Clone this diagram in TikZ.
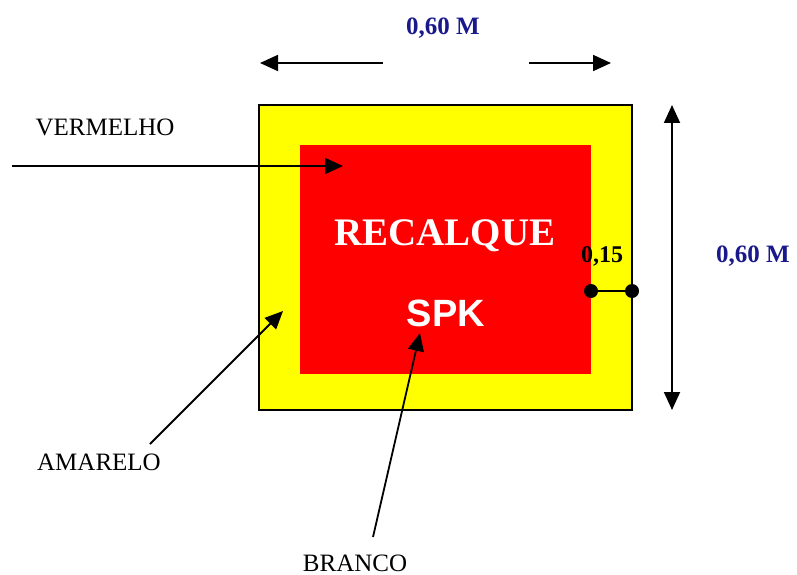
\documentclass[tikz,border=0pt]{standalone}
\usepackage{fontspec}
\setmainfont{Liberation Serif}
\newfontfamily\arialfont{Liberation Sans}
\usetikzlibrary{arrows.meta}
\definecolor{navyblue}{RGB}{25,25,140}
\definecolor{ylw}{RGB}{255,255,0}
\definecolor{rd}{RGB}{255,0,0}
\tikzset{
  lbl/.style={inner sep=0pt, font=\fontsize{25}{25}\selectfont},
  dimlbl/.style={inner sep=0pt, text=navyblue, font=\fontsize{25}{25}\selectfont\bfseries},
  tip/.style={-{Triangle[length=18pt,width=16pt]}},
  arr/.style={line width=1.8pt, tip},
  dot/.style={circle, fill=black, inner sep=0pt, minimum size=14pt},
}
\begin{document}
\begin{tikzpicture}[x=1pt,y=-1pt]
\useasboundingbox (0,0) rectangle (797,575);
% plates
\node[draw=black, line width=1.5pt, fill=ylw, minimum width=373pt, minimum height=305pt, inner sep=0pt] (outer) at (445.5,257.5) {};
\node[fill=rd, minimum width=291pt, minimum height=229pt, inner sep=0pt] (inner) at (445.5,259.5) {};
% texts inside
\node[inner sep=0pt, text=white, font=\fontsize{39}{39}\selectfont\bfseries] (recalque) at (445,236) {RECALQUE};
\node[inner sep=0pt, text=white, font=\fontsize{38}{38}\selectfont\arialfont\bfseries] (spk) at (446,313) {SPK};
% labels
\node[lbl] (verm) at (105,127) {VERMELHO};
\node[lbl] (amar) at (99,462) {AMARELO};
\node[lbl] (branco) at (355,563) {BRANCO};
\node[dimlbl] (dimtop) at (443,28) {0,60 M};
\node[dimlbl] (dimright) at (753,256) {0,60 M};
\node[inner sep=0pt, font=\fontsize{24}{24}\selectfont\bfseries] (d15) at (602,256) {0,15};
% pointer arrows
\coordinate (vs) at (12,166);
\coordinate (vt) at (343,166);
\draw[arr] (vs) -- (vt);
\coordinate (as) at (150,444);
\coordinate (at) at (283,311);
\draw[arr] (as) -- (at);
\coordinate (bs) at (373,537);
\coordinate (bt) at (420,333);
\draw[arr] (bs) -- (bt);
% top dimension arrows
\coordinate (tl0) at (383,63);
\coordinate (tl1) at (260,63);
\coordinate (tr0) at (529,63);
\coordinate (tr1) at (611,63);
\draw[arr] (tl0) -- (tl1);
\draw[arr] (tr0) -- (tr1);
% right dimension arrow
\coordinate (rv0) at (672,105);
\coordinate (rv1) at (672,410);
\draw[line width=1.8pt, {Triangle[length=18pt,width=16pt]}-{Triangle[length=18pt,width=16pt]}] (rv0) -- (rv1);
% 0,15 marker
\node[dot] (d1) at (591,291) {};
\node[dot] (d2) at (632,291) {};
\draw[line width=2pt] (d1) -- (d2);
\end{tikzpicture}
\end{document}
